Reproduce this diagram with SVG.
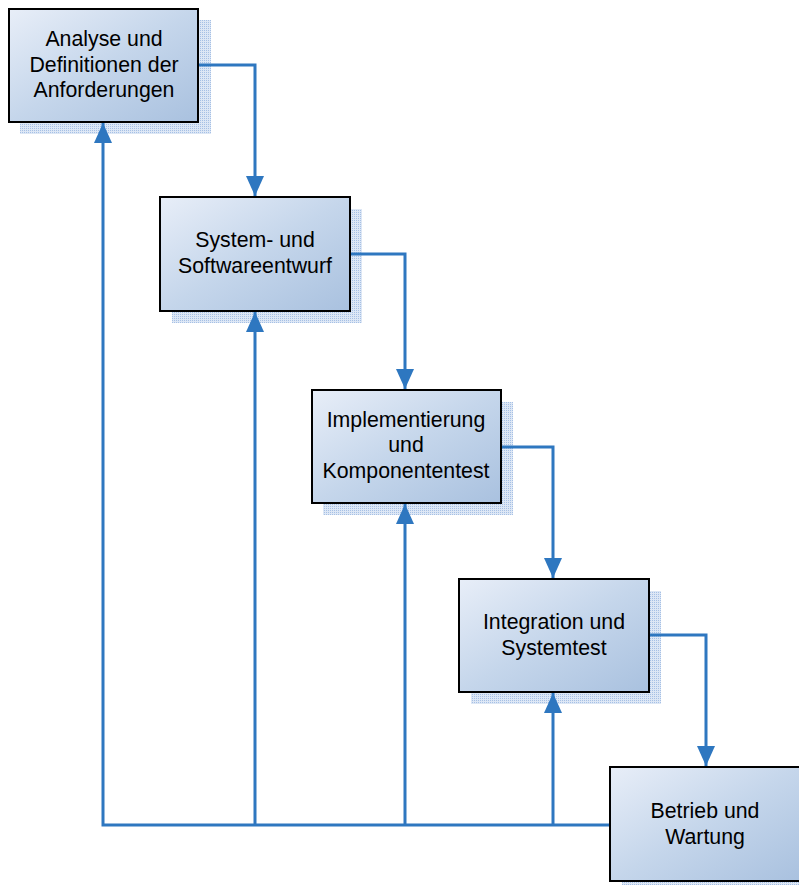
<svg xmlns="http://www.w3.org/2000/svg" width="799" height="885" viewBox="0 0 799 885">
  <defs>
    <linearGradient id="boxFill" x1="0" y1="0" x2="1" y2="1">
      <stop offset="0" stop-color="#e8eef8"/>
      <stop offset="0.5" stop-color="#c5d6eb"/>
      <stop offset="1" stop-color="#a9c1df"/>
    </linearGradient>
    <pattern id="hatch" width="2" height="2" patternUnits="userSpaceOnUse">
      <rect width="2" height="2" fill="#dde7f5"/>
      <rect width="1" height="1" fill="#a6c0e5"/>
    </pattern>
    <marker id="arrow" viewBox="0 0 20 18" refX="20" refY="9" markerWidth="20" markerHeight="18" markerUnits="userSpaceOnUse" orient="auto">
      <path d="M0,0 L20,9 L0,18 Z" fill="#2e77c0"/>
    </marker>
  </defs>
  <style>
    .shadow { fill: url(#hatch); }
    .box { fill: url(#boxFill); stroke: #000; stroke-width: 2; }
    .label { font-family: "Liberation Sans", Arial, sans-serif; font-size: 21.3px; fill: #000; text-anchor: middle; }
    .conn { fill: none; stroke: #2e77c0; stroke-width: 3; }
  </style>

  <g id="analyse">
    <rect class="shadow" x="20" y="20" width="191" height="114"/>
    <rect class="box" x="9" y="9" width="189" height="113"/>
    <text class="label" x="104" y="46">Analyse und</text>
    <text class="label" x="104" y="72">Definitionen der</text>
    <text class="label" x="104" y="97">Anforderungen</text>
  </g>

  <g id="entwurf">
    <rect class="shadow" x="172" y="209" width="190" height="114"/>
    <rect class="box" x="160" y="197" width="190" height="114"/>
    <text class="label" x="255" y="247">System- und</text>
    <text class="label" x="255" y="273">Softwareentwurf</text>
  </g>

  <g id="implementierung">
    <rect class="shadow" x="323" y="402" width="190" height="113"/>
    <rect class="box" x="312" y="390" width="189" height="113"/>
    <text class="label" x="406" y="427">Implementierung</text>
    <text class="label" x="406" y="452">und</text>
    <text class="label" x="406" y="478">Komponententest</text>
  </g>

  <g id="integration">
    <rect class="shadow" x="471" y="591" width="190" height="113"/>
    <rect class="box" x="459" y="579" width="190" height="113"/>
    <text class="label" x="554" y="629">Integration und</text>
    <text class="label" x="554" y="655">Systemtest</text>
  </g>

  <g id="betrieb">
    <rect class="shadow" x="622" y="779" width="190" height="113"/>
    <rect class="box" x="610" y="767" width="190" height="114"/>
    <text class="label" x="705" y="818">Betrieb und</text>
    <text class="label" x="705" y="844">Wartung</text>
  </g>

  <g id="connectors">
    <!-- forward flow -->
    <path class="conn" d="M199,65 H255 V196" marker-end="url(#arrow)"/>
    <path class="conn" d="M351,254 H405 V389" marker-end="url(#arrow)"/>
    <path class="conn" d="M502,447 H553 V578" marker-end="url(#arrow)"/>
    <path class="conn" d="M650,635 H706 V766" marker-end="url(#arrow)"/>
    <!-- feedback paths -->
    <path class="conn" d="M609,825 H103 V123" marker-end="url(#arrow)"/>
    <path class="conn" d="M255,825 V312" marker-end="url(#arrow)"/>
    <path class="conn" d="M405,825 V504" marker-end="url(#arrow)"/>
    <path class="conn" d="M553,825 V693" marker-end="url(#arrow)"/>
  </g>
</svg>
